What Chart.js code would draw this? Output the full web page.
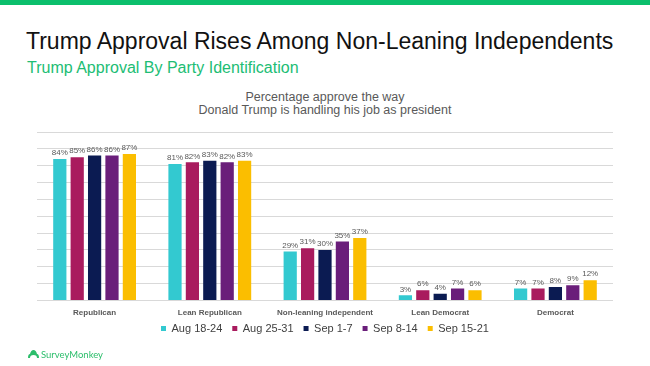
<!DOCTYPE html>
<html>
<head>
<meta charset="utf-8">
<script src="https://cdn.jsdelivr.net/npm/chart.js@4.4.1/dist/chart.umd.min.js"></script>
<style>
  html, body { margin: 0; padding: 0; background: #fff; }
  body { width: 650px; height: 366px; position: relative; overflow: hidden; font-family: "Liberation Sans", Arial, sans-serif; }
  .topbar { position: absolute; left: 0; top: 0; width: 650px; height: 5px; background: #0bbf6c; }
  .title { position: absolute; left: 26px; top: 30px; font-size: 23px; line-height: 23px; color: #111; white-space: nowrap; }
  .subtitle { position: absolute; left: 27px; top: 60px; font-size: 16px; line-height: 16px; color: #21bd74; white-space: nowrap; }
  .charttitle { position: absolute; left: 0; top: 91px; width: 650px; text-align: center; font-size: 12.5px; line-height: 13.3px; color: #595959; }
  .chartbox { position: absolute; left: 0; top: 120px; width: 650px; height: 237px; }
  .logo { position: absolute; left: 28px; top: 348px; height: 12px; display: flex; align-items: center; color: #2dbe6c; font-family: Lato, sans-serif; font-size: 9.5px; }
  .logo svg { margin-right: 2px; }
</style>
</head>
<body>
<div class="topbar"></div>
<div class="title">Trump Approval Rises Among Non-Leaning Independents</div>
<div class="subtitle">Trump Approval By Party Identification</div>
<div class="charttitle">Percentage approve the way<br>Donald Trump is handling his job as president</div>
<div class="chartbox"><canvas id="chart"></canvas></div>
<div class="logo">
  <svg width="11" height="8" viewBox="0 0 11 8"><path d="M0 8 Q0 4 2 4 Q3 0 5.5 0 Q8 0 9 4 Q11 4 11 8 L9 8 Q9 5 5.5 5 Q2 5 2 8 Z" fill="#2dbe6c"/></svg>
  <span>SurveyMonkey</span>
</div>
<script>
const categories = ['Republican', 'Lean Republican', 'Non-leaning independent', 'Lean Democrat', 'Democrat'];
const seriesNames = ['Aug 18-24', 'Aug 25-31', 'Sep 1-7', 'Sep 8-14', 'Sep 15-21'];
const aug18_24 = [84, 81, 29, 3, 7];
const aug25_31 = [85, 82, 31, 6, 7];
const sep1_7 = [86, 83, 30, 4, 8];
const sep8_14 = [86, 82, 35, 7, 9];
const sep15_21 = [87, 83, 37, 6, 12];
const colors = ['#33c9d0', '#a91b5e', '#0b1b52', '#6a1e7a', '#fbbe00'];

Chart.defaults.font.family = '"Liberation Sans", Arial, sans-serif';

const seriesValues = [aug18_24, aug25_31, sep1_7, sep8_14, sep15_21];

// percent labels above each bar
const barLabels = {
  id: 'barLabels',
  afterDatasetsDraw(chart) {
    const ctx = chart.ctx;
    ctx.save();
    ctx.font = '8px "Liberation Sans", Arial, sans-serif';
    ctx.fillStyle = '#595959';
    ctx.textAlign = 'center';
    ctx.textBaseline = 'bottom';
    chart.data.datasets.forEach((ds, i) => {
      chart.getDatasetMeta(i).data.forEach((bar, j) => {
        ctx.fillText(ds.data[j] + '%', bar.x, bar.y - 2);
      });
    });
    ctx.restore();
  }
};

// pull the legend closer to the axis labels
const legendNudge = {
  id: 'legendNudge',
  afterLayout(chart) {
    chart.legend.top -= 13;
    chart.legend.bottom -= 13;
  }
};

new Chart(document.getElementById('chart'), {
  type: 'bar',
  data: {
    labels: categories,
    datasets: seriesNames.map((name, i) => ({
      label: name,
      data: seriesValues[i],
      backgroundColor: colors[i],
      borderWidth: 0,
      barPercentage: 0.76,
      categoryPercentage: 0.755
    }))
  },
  options: {
    responsive: true,
    maintainAspectRatio: false,
    animation: false,
    layout: { padding: { top: 12, left: 37, right: 37, bottom: 0 } },
    plugins: {
      legend: {
        position: 'bottom',
        labels: {
          boxWidth: 5,
          boxHeight: 5,
          padding: 10,
          color: '#404040',
          font: { size: 11 }
        }
      },
      tooltip: { enabled: false }
    },
    scales: {
      x: {
        grid: { display: false, drawTicks: false },
        border: { display: false },
        ticks: {
          padding: 8,
          color: '#595959',
          font: { size: 8, weight: 'bold' }
        }
      },
      y: {
        min: 0,
        max: 100,
        ticks: { display: false, stepSize: 10 },
        grid: { color: '#d9d9d9', drawTicks: false },
        border: { display: false }
      }
    }
  },
  plugins: [barLabels, legendNudge]
});
</script>
</body>
</html>
